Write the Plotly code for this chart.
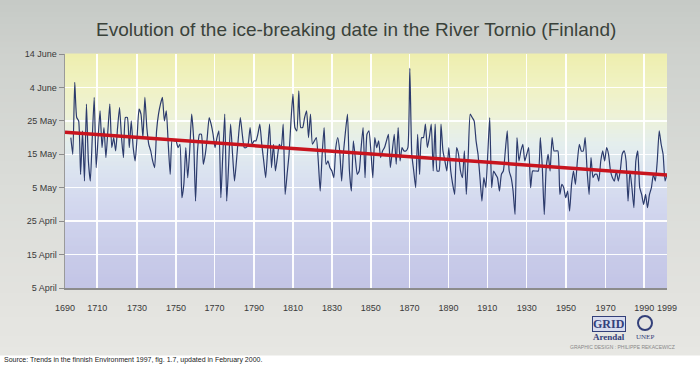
import plotly.graph_objects as go

# ---------------- data ----------------
years = list(range(1693, 2000))
# ice-break day of year (95 = 5 April ... 165 = 14 June)
break_day = [
    140, 135, 156.5, 146, 145, 129, 142,
    127, 150, 133, 127, 140, 152, 131, 140, 148, 137,
    143, 134, 142, 150, 137, 140, 136, 143, 149, 140,
    134, 146, 146, 137, 145, 137, 133, 140, 148.5, 147,
    140, 152, 143, 138, 136, 133, 131, 142, 147, 150,
    152, 145, 148, 138, 129, 139.5, 139, 139, 137, 138,
    122, 126, 137, 128, 136, 147, 140, 121, 136, 141,
    141, 132, 135, 140, 146, 144, 141, 137, 140, 142,
    122, 135, 147, 121, 132, 144, 135, 127, 133, 140,
    146, 141, 137, 137, 138, 143, 138, 139, 139, 141,
    144, 138, 133, 128, 136, 144, 131, 138, 130, 134,
    138, 137, 144, 123, 129, 135, 145, 153, 143, 142,
    154, 143, 143, 146, 148, 140, 147, 138, 139, 140,
    133, 124, 135, 143, 132, 133, 131, 130, 128, 137,
    140, 136, 127, 136, 142, 147, 130, 124, 139, 134,
    129, 130, 137, 143, 128, 141, 142, 136, 128, 140,
    137, 139, 134, 136, 137, 139, 141, 131, 136, 141,
    132, 143, 133, 137, 136, 136, 137, 160.7, 135, 130,
    125, 141, 129, 140, 140, 144, 137, 140, 144, 130,
    144, 130, 130, 144, 136, 133, 130, 137, 130, 126,
    123, 137, 135, 130, 128, 136, 123, 135, 147, 146,
    145, 139, 135, 128, 121, 128, 125, 135, 146, 125,
    130, 129, 128, 124, 129, 130, 136, 142, 130, 128,
    124, 117, 140, 133, 136, 138, 133, 135, 137, 125,
    130, 130, 130, 130, 140, 131, 117, 131, 135, 130,
    140, 136, 136, 136, 123, 126, 125, 122, 124, 118,
    126, 130, 126, 133, 138, 136, 136, 140, 130, 123,
    134, 128, 129, 129, 127, 133, 136, 133, 137, 135,
    130, 128, 127, 130, 127, 130, 135, 136, 133, 121,
    130, 125, 119, 133, 136, 125, 123, 120, 123, 119,
    123, 125, 129, 127, 133, 142, 138, 135, 127, 129,
]
trend_years = [1690, 1999]
trend_day = [141.6, 128.8]

y_tick_vals = [95, 105, 115, 125, 135, 145, 155, 165]
y_tick_labels = ["5 April", "15 April", "25 April", "5 May", "15 May",
                 "25 May", "4 June", "14 June"]
x_tick_pos = [1690, 1706.5, 1727, 1747, 1766.7, 1787, 1807, 1827, 1847,
              1866.8, 1886.8, 1906.8, 1927, 1947.2, 1967.5, 1987.3, 1999]
x_tick_labels = ["1690", "1710", "1730", "1750", "1770", "1790", "1810",
                 "1830", "1850", "1870", "1890", "1910", "1930", "1950",
                 "1970", "1990", "1999"]

title_text = "Evolution of the ice-breaking date in the River Tornio (Finland)"
source_text = ("Source: Trends in the finnish Environment 1997, fig. 1.7, "
               "updated in February 2000.")

# ---------------- layout geometry ----------------
W, H = 700, 368
L, R, T, B = 65, 33, 54, 80
PW, PH = W - L - R, H - T - B


def px_to_paper(x=None, y=None):
    out = []
    if x is not None:
        out.append((x - L) / PW)
    if y is not None:
        out.append((H - B - y) / PH)
    return out if len(out) > 1 else out[0]


def lerp_color(stops, t):
    for i in range(len(stops) - 1):
        t0, c0 = stops[i]
        t1, c1 = stops[i + 1]
        if t0 <= t <= t1:
            f = (t - t0) / (t1 - t0) if t1 > t0 else 0
            c = [int(round(c0[k] + (c1[k] - c0[k]) * f)) for k in range(3)]
            return "rgb(%d,%d,%d)" % tuple(c)
    c = stops[-1][1]
    return "rgb(%d,%d,%d)" % tuple(c)


def hx(h):
    h = h.lstrip("#")
    return [int(h[i:i + 2], 16) for i in (0, 2, 4)]


shapes = []
# page background gradient (gray), pixel rows 0..355
page_stops = [(0, hx("#c6cac6")), (60, hx("#cfd2ce")), (180, hx("#dadcd8")),
              (300, hx("#e3e3df")), (355, hx("#e7e7e3"))]
step = 6
for y0 in range(0, 355, step):
    y1 = min(y0 + step, 355)
    col = lerp_color(page_stops, (y0 + y1) / 2)
    shapes.append(dict(type="rect", xref="paper", yref="paper",
                       x0=px_to_paper(x=0), x1=px_to_paper(x=W),
                       y0=px_to_paper(y=y1 + 0.5), y1=px_to_paper(y=y0 - 0.5),
                       fillcolor=col, line_width=0, layer="below"))
# plot-area gradient (yellow -> pale -> lavender)
plot_stops = [(54, hx("#eeeeae")), (85, hx("#f0f2c2")), (115, hx("#eef2d6")),
              (145, hx("#e4eeee")), (175, hx("#dae2f0")), (210, hx("#d1d6ee")),
              (250, hx("#c9cce9")), (288, hx("#c3c5e6"))]
step = 4
for y0 in range(54, 288, step):
    y1 = min(y0 + step, 288)
    col = lerp_color(plot_stops, (y0 + y1) / 2)
    shapes.append(dict(type="rect", xref="paper", yref="paper",
                       x0=0, x1=1,
                       y0=px_to_paper(y=y1 + 0.5), y1=px_to_paper(y=y0 - 0.5),
                       fillcolor=col, line_width=0, layer="below"))
# UNEP emblem circle
shapes.append(dict(type="circle", xref="paper", yref="paper",
                   x0=px_to_paper(x=638), x1=px_to_paper(x=652),
                   y0=px_to_paper(y=330), y1=px_to_paper(y=316),
                   line=dict(color="#33407a", width=2), fillcolor="rgba(0,0,0,0)"))

fig = go.Figure()
fig.add_trace(go.Scatter(
    x=years, y=break_day, mode="lines",
    line=dict(color="#2c3b6c", width=1.2, shape="spline", smoothing=0.5),
    hoverinfo="skip", showlegend=False))
fig.add_trace(go.Scatter(
    x=trend_years, y=trend_day, mode="lines",
    line=dict(color="#c8141e", width=3.5),
    hoverinfo="skip", showlegend=False))

annotations = [
    dict(text=title_text, x=px_to_paper(x=356), xref="paper", y=px_to_paper(y=30),
         yref="paper", xanchor="center", yanchor="middle", showarrow=False,
         font=dict(family="Liberation Sans, Arial, sans-serif",
                   size=19, color="#3a423a")),
    dict(text=source_text, x=px_to_paper(x=2), xref="paper", y=px_to_paper(y=360),
         yref="paper", xanchor="left", yanchor="middle", showarrow=False,
         font=dict(family="Liberation Sans, Arial, sans-serif", size=7, color="#222222")),
    dict(text="<b>GRID</b>", x=px_to_paper(x=609), xref="paper", y=px_to_paper(y=324),
         yref="paper", xanchor="center", yanchor="middle", showarrow=False,
         bordercolor="#33407a", borderwidth=1, borderpad=0, bgcolor="#d8dcee",
         font=dict(family="Liberation Serif, serif", size=12, color="#33407a")),
    dict(text="<b>Arendal</b>", x=px_to_paper(x=609), xref="paper", y=px_to_paper(y=337),
         yref="paper", xanchor="center", yanchor="middle", showarrow=False,
         font=dict(family="Liberation Serif, serif", size=9, color="#33407a")),
    dict(text="UNEP", x=px_to_paper(x=645), xref="paper", y=px_to_paper(y=337),
         yref="paper", xanchor="center", yanchor="middle", showarrow=False,
         font=dict(family="Liberation Serif, serif", size=7, color="#33407a")),
    dict(text="GRAPHIC DESIGN : PHILIPPE REKACEWICZ", x=px_to_paper(x=622), xref="paper",
         y=px_to_paper(y=347), yref="paper", xanchor="center", yanchor="middle",
         showarrow=False,
         font=dict(family="Liberation Sans, sans-serif", size=5,
                   color="#888888")),
]

fig.update_layout(
    width=W, height=H,
    margin=dict(l=L, r=R, t=T, b=B, pad=0),
    paper_bgcolor="#ffffff",
    plot_bgcolor="rgba(0,0,0,0)",
    shapes=shapes,
    annotations=annotations,
    showlegend=False,
    font=dict(family="Liberation Sans, Arial, sans-serif", size=9, color="#333333"),
)
fig.update_xaxes(
    range=[1690, 1999], tickmode="array", tickvals=x_tick_pos, ticktext=x_tick_labels,
    showgrid=True, gridcolor="rgba(255,255,255,0.95)", gridwidth=1.5,
    showline=True, linecolor="#8c8c8c", linewidth=2, ticks="",
    ticklabelstandoff=10, zeroline=False,
    tickfont=dict(size=9, color="#3a3a3a"),
)
fig.update_yaxes(
    range=[95, 165], tickmode="array", tickvals=y_tick_vals, ticktext=y_tick_labels,
    showgrid=True, gridcolor="rgba(255,255,255,0.95)", gridwidth=1.5,
    showline=True, linecolor="#9a9a9a", linewidth=1.5, ticks="outside", ticklen=5,
    tickcolor="#8c8c8c", tickwidth=1, zeroline=False,
    tickfont=dict(size=9, color="#3a3a3a"),
)

fig.write_html(
    "out.html",
    config={"displayModeBar": False, "staticPlot": True},
    post_script="document.body.style.margin='0px';"
                "document.body.style.overflow='hidden';",
)
